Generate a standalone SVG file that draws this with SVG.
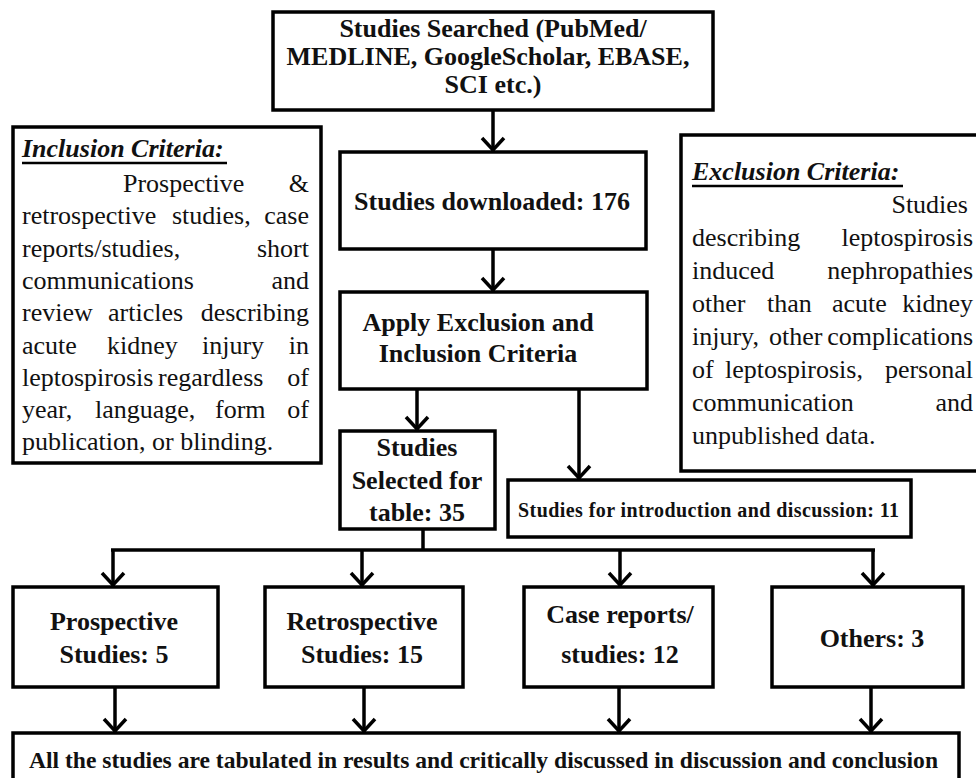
<svg xmlns="http://www.w3.org/2000/svg" width="976" height="778" viewBox="0 0 976 778">
<defs>
<style>
.box{fill:#fff;stroke:#000;stroke-width:3.5}
.b{font-family:"Liberation Serif","Times New Roman",serif;font-weight:bold;font-size:26px;fill:#111;text-anchor:middle}
.r{font-family:"Liberation Serif","Times New Roman",serif;font-size:26px;fill:#111}
.h{font-family:"Liberation Serif","Times New Roman",serif;font-size:26px;font-weight:bold;font-style:italic;fill:#111}
.e{text-anchor:end}
.ul{stroke:#000;stroke-width:2.5}
.con{stroke:#000;stroke-width:3.5;fill:none}
</style>
<marker id="ah" markerUnits="userSpaceOnUse" markerWidth="30" markerHeight="30" viewBox="-15 -15 30 30" refX="0" refY="0" orient="auto" overflow="visible">
<path d="M-13,-11 L-1,0 L-13,11" fill="none" stroke="#000" stroke-width="3.5"/>
</marker>
</defs>
<rect width="976" height="778" fill="#fff"/>

<g id="connectors">
<line class="con" x1="493" y1="110" x2="493" y2="151" marker-end="url(#ah)"/>
<line class="con" x1="493" y1="249" x2="493" y2="291" marker-end="url(#ah)"/>
<line class="con" x1="417" y1="389" x2="417" y2="430" marker-end="url(#ah)"/>
<line class="con" x1="579" y1="389" x2="579" y2="479" marker-end="url(#ah)"/>
<line class="con" x1="423" y1="530" x2="423" y2="550"/>
<line class="con" x1="111" y1="550" x2="875" y2="550"/>
<line class="con" x1="113" y1="550" x2="113" y2="586" marker-end="url(#ah)"/>
<line class="con" x1="362" y1="550" x2="362" y2="586" marker-end="url(#ah)"/>
<line class="con" x1="620" y1="550" x2="620" y2="586" marker-end="url(#ah)"/>
<line class="con" x1="873" y1="550" x2="873" y2="586" marker-end="url(#ah)"/>
<line class="con" x1="115" y1="687" x2="115" y2="732" marker-end="url(#ah)"/>
<line class="con" x1="364" y1="687" x2="364" y2="732" marker-end="url(#ah)"/>
<line class="con" x1="619" y1="687" x2="619" y2="732" marker-end="url(#ah)"/>
<line class="con" x1="871" y1="687" x2="871" y2="732" marker-end="url(#ah)"/>
</g>

<g id="searched">
<rect class="box" x="273" y="12" width="440" height="98"/>
<text class="b" x="493" y="37">Studies Searched (PubMed/</text>
<text class="b" x="488" y="65">MEDLINE, GoogleScholar, EBASE,</text>
<text class="b" x="493" y="93">SCI etc.)</text>
</g>

<g id="inclusion">
<rect class="box" x="13" y="127" width="308" height="336"/>
<text class="h" x="22" y="157">Inclusion Criteria:</text>
<line class="ul" x1="22" y1="163" x2="227" y2="163"/>
<text class="r" y="192"><tspan x="123">Prospective</tspan><tspan class="e" x="309">&amp;</tspan></text>
<text class="r" y="224"><tspan x="22">retrospective</tspan><tspan x="172">studies,</tspan><tspan class="e" x="309">case</tspan></text>
<text class="r" y="257"><tspan x="22">reports/studies,</tspan><tspan class="e" x="309">short</tspan></text>
<text class="r" y="289"><tspan x="22">communications</tspan><tspan class="e" x="309">and</tspan></text>
<text class="r" y="321"><tspan x="22">review</tspan><tspan x="108">articles</tspan><tspan class="e" x="309">describing</tspan></text>
<text class="r" y="354"><tspan x="22">acute</tspan><tspan x="107">kidney</tspan><tspan x="202">injury</tspan><tspan class="e" x="309">in</tspan></text>
<text class="r" y="386"><tspan x="22">leptospirosis</tspan><tspan x="158">regardless</tspan><tspan class="e" x="309">of</tspan></text>
<text class="r" y="418"><tspan x="22">year,</tspan><tspan x="95">language,</tspan><tspan x="215">form</tspan><tspan class="e" x="309">of</tspan></text>
<text class="r" x="22" y="450">publication, or blinding.</text>
</g>

<g id="downloaded">
<rect class="box" x="340" y="152" width="306" height="97"/>
<text class="b" x="492" y="210">Studies downloaded: 176</text>
</g>

<g id="exclusion">
<rect class="box" x="681" y="135" width="310" height="336"/>
<text class="h" x="692" y="180">Exclusion Criteria:</text>
<line class="ul" x1="692" y1="186" x2="903" y2="186"/>
<text class="r e" x="968" y="213">Studies</text>
<text class="r" y="246"><tspan x="692">describing</tspan><tspan class="e" x="973">leptospirosis</tspan></text>
<text class="r" y="279"><tspan x="692">induced</tspan><tspan class="e" x="973">nephropathies</tspan></text>
<text class="r" y="312"><tspan x="692">other</tspan><tspan x="767">than</tspan><tspan x="832">acute</tspan><tspan class="e" x="973">kidney</tspan></text>
<text class="r" y="345"><tspan x="692">injury,</tspan><tspan x="769">other</tspan><tspan class="e" x="973">complications</tspan></text>
<text class="r" y="378"><tspan x="692">of</tspan><tspan x="725">leptospirosis,</tspan><tspan class="e" x="973">personal</tspan></text>
<text class="r" y="411"><tspan x="692">communication</tspan><tspan class="e" x="973">and</tspan></text>
<text class="r" x="692" y="444">unpublished data.</text>
</g>

<g id="apply">
<rect class="box" x="340" y="292" width="307" height="97"/>
<text class="b" x="478" y="331">Apply Exclusion and</text>
<text class="b" x="478" y="362">Inclusion Criteria</text>
</g>

<g id="selected">
<rect class="box" x="340" y="431" width="155" height="98"/>
<text class="b" x="417" y="456">Studies</text>
<text class="b" x="417" y="489">Selected for</text>
<text class="b" x="417" y="521">table: 35</text>
</g>

<g id="intro">
<rect class="box" x="508" y="480" width="403" height="57"/>
<text class="b" x="518" y="517" style="font-size:20px;text-anchor:start" textLength="381" lengthAdjust="spacing">Studies for introduction and discussion: 11</text>
</g>

<g id="prospective">
<rect class="box" x="13" y="587" width="205" height="100"/>
<text class="b" x="114" y="630">Prospective</text>
<text class="b" x="114" y="663">Studies: 5</text>
</g>

<g id="retrospective">
<rect class="box" x="265" y="587" width="198" height="100"/>
<text class="b" x="362" y="630">Retrospective</text>
<text class="b" x="362" y="663">Studies: 15</text>
</g>

<g id="case">
<rect class="box" x="524" y="587" width="189" height="100"/>
<text class="b" x="620" y="623">Case reports/</text>
<text class="b" x="620" y="663">studies: 12</text>
</g>

<g id="others">
<rect class="box" x="772" y="587" width="191" height="100"/>
<text class="b" x="872" y="647">Others: 3</text>
</g>

<g id="tabulated">
<rect class="box" x="13" y="733" width="946" height="60"/>
<text class="b" x="29" y="768" style="font-size:23px;text-anchor:start" textLength="909" lengthAdjust="spacingAndGlyphs">All the studies are tabulated in results and critically discussed in discussion and conclusion</text>
</g>
</svg>
